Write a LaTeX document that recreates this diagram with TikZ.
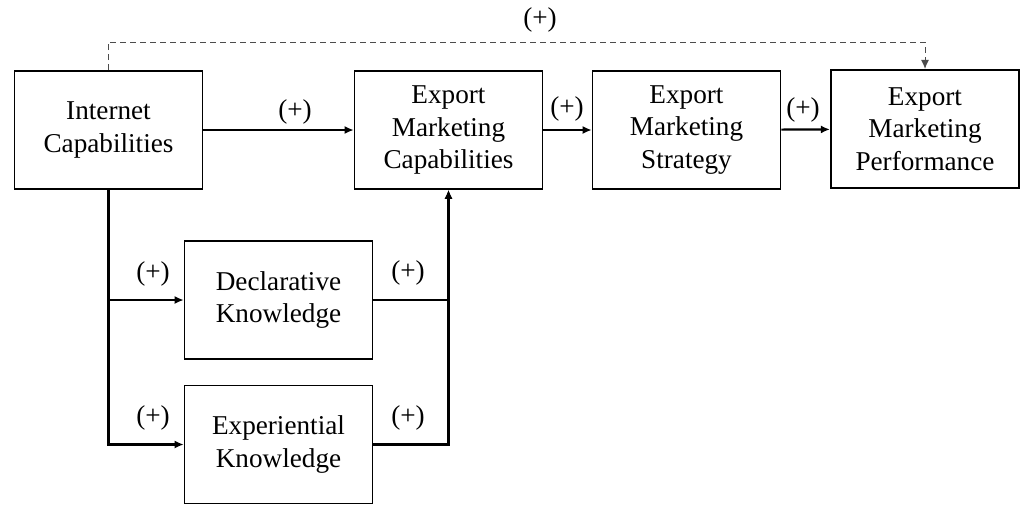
\documentclass[tikz,border=0pt]{standalone}
\usepackage{fontspec}
\setmainfont{Liberation Serif}
\usetikzlibrary{arrows.meta}

\tikzset{
  box/.style={draw, line width=0.8pt, minimum width=94pt, minimum height=59pt,
    inner sep=0pt, align=center, font=\fontsize{13.6}{16.3}\selectfont},
  link/.style={line width=1.1pt, -{Latex[length=4.5pt,width=4pt]}},
  dashlink/.style={densely dashed, gray!60!black, line width=0.5pt, -{Latex[length=4.5pt,width=4pt]}},
  sign/.style={font=\fontsize{13.6}{16}\selectfont}
}

\begin{document}
\begin{tikzpicture}[x=0.5pt, y=-0.5pt]
  \useasboundingbox (0,0) rectangle (1022,526);
  \node[box] (ic) at (108.5,130) {Internet\\Capabilities};
  \node[box] (emc) at (448.5,130) {Export\\Marketing\\Capabilities};
  \node[box] (ems) at (686.5,130) {Export\\Marketing\\Strategy};
  \node[box, line width=1.1pt] (emp) at (925,129) {Export\\Marketing\\Performance};
  \node[box] (decl) at (278.5,300) {Declarative\\Knowledge};
  \node[box] (exp) at (278.5,444.5) {Experiential\\Knowledge};
  \coordinate (top) at (540,42);
  % main chain
  \draw[link] (ic) -- (emc);
  \draw[link] (emc) -- (ems);
  \draw[link] (ems) -- (emp);
  % knowledge paths
  \draw[link] (ic.south) |- (decl.west);
  \draw[link] (ic.south) |- (exp.west);
  \draw[link] (decl.east) -| (emc.south);
  \draw[link] (exp.east) -| (emc.south);
  % direct effect
  \draw[dashlink] (ic.north) |- (top) -| (emp.north);
  \node[sign] at (540,20) {(+)};
  \node[sign] at (295,112) {(+)};
  \node[sign] at (567,109) {(+)};
  \node[sign] at (803,110) {(+)};
  \node[sign] at (153,274) {(+)};
  \node[sign] at (408,273) {(+)};
  \node[sign] at (153,418) {(+)};
  \node[sign] at (408,418) {(+)};
\end{tikzpicture}
\end{document}
